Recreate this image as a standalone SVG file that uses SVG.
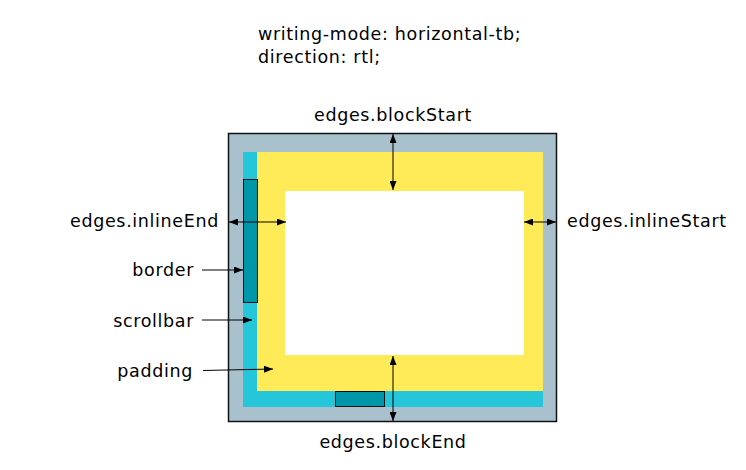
<svg xmlns="http://www.w3.org/2000/svg" width="746" height="470" viewBox="0 0 746 470">
<defs>
<style>
text{font-family:"DejaVu Sans","Liberation Sans",sans-serif;font-size:17.5px;letter-spacing:0.65px;fill:#000}
.c{stroke:#000;stroke-width:1;fill:none}
</style>
<marker id="ah" viewBox="0 0 9 7" refX="9" refY="3.5" markerWidth="9" markerHeight="7" markerUnits="userSpaceOnUse" orient="auto-start-reverse">
<path d="M0,0 L9,3.5 L0,7 z" fill="#000"/>
</marker>
</defs>
<rect width="746" height="470" fill="#fff"/>
<g id="title">
<text x="258" y="40">writing-mode: horizontal-tb;</text>
<text x="258" y="63">direction: rtl;</text>
</g>
<g id="box">
<rect x="228.5" y="133.5" width="328" height="288" fill="#a8c1cd" stroke="#111" stroke-width="1.5"/>
<rect x="243" y="152" width="300" height="255" fill="#26c6da"/>
<rect x="257" y="152" width="286" height="239" fill="#ffeb57"/>
<rect x="285" y="191" width="239" height="164" fill="#fff"/>
</g>
<g id="scrollbar-v"><rect x="243.5" y="179.5" width="14" height="123" fill="#0096aa" stroke="#111" stroke-width="1"/></g>
<g id="scrollbar-h"><rect x="335.5" y="391.5" width="49" height="15" fill="#0096aa" stroke="#111" stroke-width="1"/></g>
<g id="labels">
<text x="393" y="121" text-anchor="middle">edges.blockStart</text>
<text x="393" y="448" text-anchor="middle">edges.blockEnd</text>
<text x="219" y="227" text-anchor="end">edges.inlineEnd</text>
<text x="567" y="227">edges.inlineStart</text>
<text x="194" y="276" text-anchor="end">border</text>
<text x="194" y="327" text-anchor="end">scrollbar</text>
<text x="193" y="377" text-anchor="end">padding</text>
</g>
<g id="connectors">
<line class="c" x1="393" y1="134" x2="393" y2="190" marker-start="url(#ah)" marker-end="url(#ah)"/>
<line class="c" x1="393" y1="356" x2="393" y2="421" marker-start="url(#ah)" marker-end="url(#ah)"/>
<line class="c" x1="229" y1="222" x2="286" y2="222" marker-start="url(#ah)" marker-end="url(#ah)"/>
<line class="c" x1="524" y1="222" x2="556" y2="222" marker-start="url(#ah)" marker-end="url(#ah)"/>
<line class="c" x1="202" y1="270" x2="243" y2="270" marker-end="url(#ah)"/>
<line class="c" x1="202" y1="320" x2="252" y2="320" marker-end="url(#ah)"/>
<line class="c" x1="203" y1="370.5" x2="273" y2="369" marker-end="url(#ah)"/>
</g>
</svg>
